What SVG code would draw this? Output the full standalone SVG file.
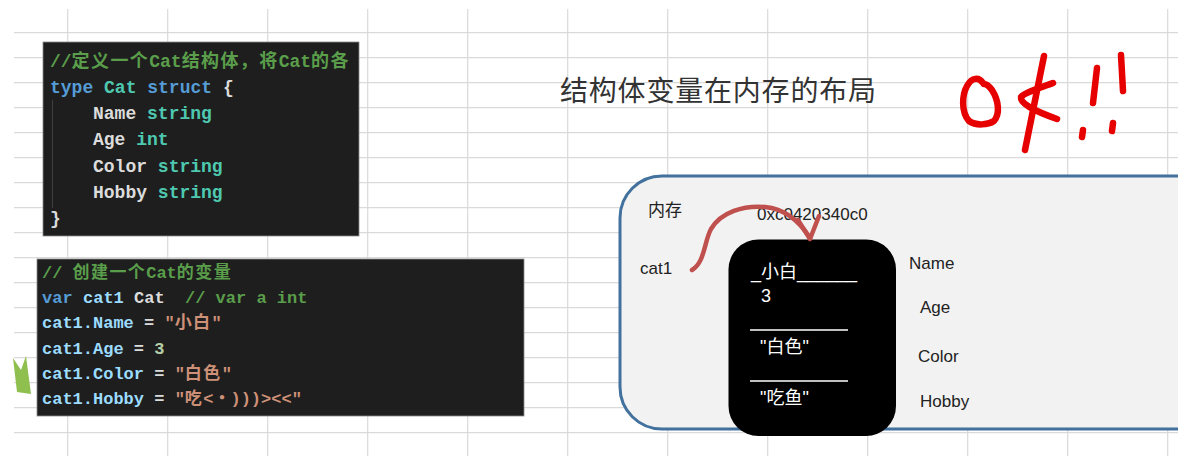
<svg xmlns="http://www.w3.org/2000/svg" width="1178" height="456" viewBox="0 0 1178 456">
<defs>
<style>
.grid line{stroke:#dadada;stroke-width:1.2}
.code{font-family:"Liberation Mono","Noto Sans CJK SC",monospace;font-weight:bold}
.c1{font-size:18px}
.c2{font-size:17px}
.cm{fill:#5a9e4b}
.kw{fill:#569cd6}
.ty{fill:#4ec9b0}
.wh{fill:#dcdcdc}
.vr{fill:#9cdcfe}
.st{fill:#ce9178}
.nm{fill:#b5cea8}
.cj{letter-spacing:1.4px}
.lbl{font-family:"Liberation Sans","Noto Sans CJK SC",sans-serif;font-size:17px;fill:#222}
.mem{font-family:"Liberation Sans","Noto Sans CJK SC",sans-serif;font-size:18px;fill:#fff}
.ok{fill:none;stroke:#e60000;stroke-width:6.5;stroke-linecap:round;stroke-linejoin:round}
.conn{fill:none;stroke:#c0504d;stroke-width:4.5;stroke-linecap:round;stroke-linejoin:round}
</style>
<clipPath id="clip1"><rect x="43" y="42" width="316" height="194"/></clipPath>
</defs>
<rect width="1178" height="456" fill="#ffffff"/>
<g class="grid">
<line x1="67.7" y1="9" x2="67.7" y2="456"/><line x1="167.7" y1="9" x2="167.7" y2="456"/><line x1="267.7" y1="9" x2="267.7" y2="456"/><line x1="367.7" y1="9" x2="367.7" y2="456"/><line x1="467.7" y1="9" x2="467.7" y2="456"/><line x1="567.7" y1="9" x2="567.7" y2="456"/><line x1="667.7" y1="9" x2="667.7" y2="456"/><line x1="767.7" y1="9" x2="767.7" y2="456"/><line x1="867.7" y1="9" x2="867.7" y2="456"/><line x1="967.7" y1="9" x2="967.7" y2="456"/><line x1="1067.7" y1="9" x2="1067.7" y2="456"/><line x1="1167.7" y1="9" x2="1167.7" y2="456"/>
<line x1="14" y1="32.7" x2="1178" y2="32.7"/><line x1="14" y1="57.7" x2="1178" y2="57.7"/><line x1="14" y1="82.7" x2="1178" y2="82.7"/><line x1="14" y1="107.7" x2="1178" y2="107.7"/><line x1="14" y1="132.7" x2="1178" y2="132.7"/><line x1="14" y1="157.7" x2="1178" y2="157.7"/><line x1="14" y1="182.7" x2="1178" y2="182.7"/><line x1="14" y1="207.7" x2="1178" y2="207.7"/><line x1="14" y1="232.7" x2="1178" y2="232.7"/><line x1="14" y1="257.7" x2="1178" y2="257.7"/><line x1="14" y1="282.7" x2="1178" y2="282.7"/><line x1="14" y1="307.7" x2="1178" y2="307.7"/><line x1="14" y1="332.7" x2="1178" y2="332.7"/><line x1="14" y1="357.7" x2="1178" y2="357.7"/><line x1="14" y1="382.7" x2="1178" y2="382.7"/><line x1="14" y1="407.7" x2="1178" y2="407.7"/><line x1="14" y1="432.7" x2="1178" y2="432.7"/>
</g>
<path d="M13,358 L21,370 L26,356 L31,394 L17,392 Z" fill="#8fbf4f"/>

<g id="code-struct">
<rect x="43" y="42" width="316" height="194" fill="#1e1e1e" stroke="#8a8a8a" stroke-width="0.8"/>
<line x1="52.5" y1="100" x2="52.5" y2="208" stroke="#404040" stroke-width="1"/>
<g clip-path="url(#clip1)" class="code c1">
<text x="50" y="66.5" class="cm">//<tspan class="cj">定义一个</tspan>Cat<tspan class="cj">结构体，将</tspan>Cat<tspan class="cj">的各</tspan></text>
<text x="50" y="92.5"><tspan class="kw">type</tspan> <tspan class="ty">Cat</tspan> <tspan class="kw">struct</tspan> <tspan class="wh">{</tspan></text>
<text x="93" y="118.5"><tspan class="wh">Name</tspan> <tspan class="ty">string</tspan></text>
<text x="93" y="145"><tspan class="wh">Age</tspan> <tspan class="ty">int</tspan></text>
<text x="93" y="171.5"><tspan class="wh">Color</tspan> <tspan class="ty">string</tspan></text>
<text x="93" y="197.5"><tspan class="wh">Hobby</tspan> <tspan class="ty">string</tspan></text>
<text x="50" y="223.5" class="wh">}</text>
</g>
</g>

<g id="code-var">
<rect x="37" y="259" width="487" height="157" fill="#1e1e1e" stroke="#8a8a8a" stroke-width="0.8"/>
<g class="code c2">
<text x="42" y="278" class="cm">// <tspan class="cj">创建一个</tspan>Cat<tspan class="cj">的变量</tspan></text>
<text y="303"><tspan x="42" class="kw">var</tspan><tspan x="83" class="vr">cat1</tspan><tspan x="134" class="wh">Cat</tspan><tspan x="185" class="cm">// var a int</tspan></text>
<text x="42" y="328"><tspan class="vr">cat1.Name</tspan><tspan class="wh"> = </tspan><tspan class="st">"<tspan class="cj">小白</tspan>"</tspan></text>
<text x="42" y="353.5"><tspan class="vr">cat1.Age</tspan><tspan class="wh"> = </tspan><tspan class="nm">3</tspan></text>
<text x="42" y="378.5"><tspan class="vr">cat1.Color</tspan><tspan class="wh"> = </tspan><tspan class="st">"<tspan class="cj">白色</tspan>"</tspan></text>
<text x="42" y="404"><tspan class="vr">cat1.Hobby</tspan><tspan class="wh"> = </tspan><tspan class="st">"<tspan class="cj">吃</tspan>&lt;・)))&gt;&lt;&lt;"</tspan></text>
</g>
</g>

<g id="title">
<text x="560" y="101" font-family="'Noto Sans CJK SC',sans-serif" font-size="28" letter-spacing="0.8" fill="#333">结构体变量在内存的布局</text>
</g>

<g id="ok-mark">
<path class="ok" d="M983,83 C979,77 972,77 967,86 C962,95 961,112 969,121 C976,126 988,125 994,121 C1000,114 999,101 992,90 C989,86 986,84 984,84"/>
<path class="ok" d="M1044,56 L1025,150"/>
<path class="ok" d="M1053,83 C1043,87 1025,92 1021,97 C1020,103 1032,110 1057,119"/>
<path class="ok" d="M1097,68 L1093,103"/>
<path class="ok" d="M1083,130 L1082,137"/>
<path class="ok" d="M1121,55 L1123,91"/>
<path class="ok" d="M1113,123 L1112,131"/>
</g>

<g id="memory-panel">
<rect x="620" y="176" width="600" height="253" rx="42" ry="42" fill="#f2f2f2" stroke="#41719c" stroke-width="3"/>
<text x="648" y="216" class="lbl" font-size="18">内存</text>
<text x="757" y="220" class="lbl">0xc0420340c0</text>
<text x="640" y="274" class="lbl">cat1</text>
<text x="909" y="269" class="lbl">Name</text>
<text x="920" y="313" class="lbl">Age</text>
<text x="918" y="361.5" class="lbl">Color</text>
<text x="920" y="406.5" class="lbl">Hobby</text>
</g>

<g id="cat1-struct">
<rect x="728.5" y="239.5" width="167.5" height="196.5" rx="30" ry="30" fill="#000"/>
<text x="751" y="278" class="mem">_小白______</text>
<text x="761" y="302" class="mem" font-size="16">3</text>
<line x1="750" y1="330" x2="848" y2="330" stroke="#fff" stroke-width="1.5"/>
<text x="760" y="353" class="mem">"白色"</text>
<line x1="750" y1="381" x2="848" y2="381" stroke="#fff" stroke-width="1.5"/>
<text x="760" y="404" class="mem">"吃鱼"</text>
</g>

<g id="connectors">
<path class="conn" d="M692,270 C705,262 704,242 711,229 C721,212 744,205 765,207 C785,209 800,222 810,238"/>
<polyline class="conn" points="798,220 810,239 819,216"/>
</g>
</svg>
